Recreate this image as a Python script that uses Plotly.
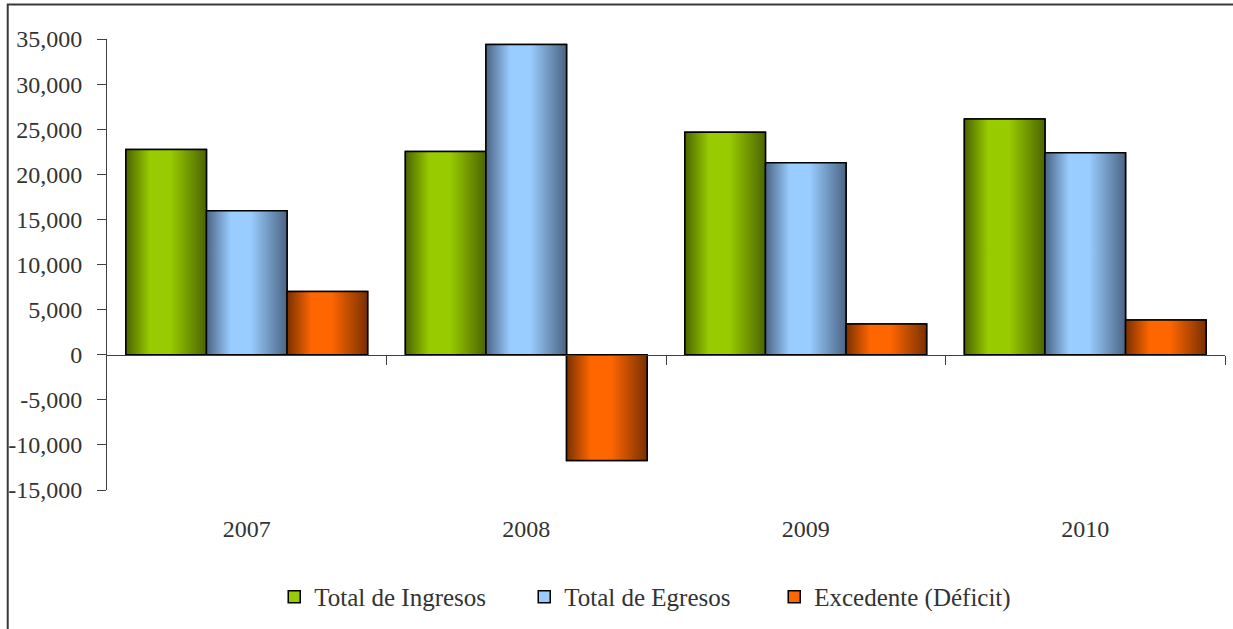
import plotly.graph_objects as go

# Yearly budget summary (values in thousands)
years = ["2007", "2008", "2009", "2010"]
ingresos = [22750, 22530, 24670, 26140]
egresos = [15950, 34390, 21270, 22380]
excedente = [7020, -11740, 3400, 3840]

y_tick_vals = [-15000, -10000, -5000, 0, 5000, 10000, 15000, 20000, 25000, 30000, 35000]
y_tick_text = ["-15,000", "-10,000", "-5,000", "0", "5,000", "10,000", "15,000",
               "20,000", "25,000", "30,000", "35,000"]

series_names = ["Total de Ingresos", "Total de Egresos", "Excedente (Déficit)"]
series_values = [ingresos, egresos, excedente]
light_colors = ["#99cc00", "#99ccff", "#ff6600"]
dark_colors = ["#4b6500", "#4b6484", "#7a3000"]

FONT = "Liberation Serif"
TEXT = "#333333"
AXIS = "#404040"
BARGAP = 0.135

xpos = list(range(len(years)))
n = len(series_values)
bw = (1 - BARGAP) / n

fig = go.Figure()

# base bars (also provide the legend swatches)
for k in range(n):
    fig.add_trace(go.Bar(
        x=xpos, y=series_values[k], name=series_names[k],
        offsetgroup=str(k),
        marker=dict(color=light_colors[k], line=dict(color="black", width=1.5)),
    ))

# cylinder-like horizontal shading laid over each bar
for k in range(n):
    offset = (k - (n - 1) / 2) * bw
    scale = [[0, dark_colors[k]], [0.3, light_colors[k]], [0.55, light_colors[k]],
             [1, dark_colors[k]]]
    for xi, v in zip(xpos, series_values[k]):
        x0 = xi + offset - bw / 2
        x1 = x0 + bw
        fig.add_trace(go.Scatter(
            x=[x0, x0, x1, x1, x0], y=[0, v, v, 0, 0],
            mode="lines", fill="toself",
            fillgradient=dict(type="horizontal", colorscale=scale),
            line=dict(color="black", width=1.5),
            showlegend=False, hoverinfo="skip",
        ))

# carrier for the category label axis
fig.add_trace(go.Scatter(x=[0], y=[None], xaxis="x2", showlegend=False, hoverinfo="skip"))

fig.update_layout(
    width=1233, height=629,
    margin=dict(l=105, r=8, t=39, b=139),
    paper_bgcolor="white", plot_bgcolor="white",
    barmode="group", bargap=BARGAP, bargroupgap=0,
    font=dict(family=FONT, color=TEXT),
    xaxis=dict(
        range=[-0.5, 3.5], anchor="free", position=0.3,
        showline=True, linecolor=AXIS, linewidth=1,
        tickvals=[0.5, 1.5, 2.5, 3.5], showticklabels=False,
        ticks="outside", ticklen=9, tickcolor=AXIS,
        showgrid=False, zeroline=False,
    ),
    xaxis2=dict(
        overlaying="x", range=[-0.5, 3.5], anchor="y", side="bottom",
        tickvals=xpos, ticktext=years, ticks="", showline=False,
        showgrid=False, zeroline=False, ticklabelstandoff=22,
        tickfont=dict(family=FONT, size=24, color=TEXT),
    ),
    yaxis=dict(
        range=[-15000, 35000], tickvals=y_tick_vals, ticktext=y_tick_text,
        ticks="outside", ticklen=9, tickcolor=AXIS,
        showline=True, linecolor=AXIS, linewidth=1,
        showgrid=False, zeroline=False, ticklabelstandoff=10,
        tickfont=dict(family=FONT, size=24, color=TEXT),
    ),
    legend=dict(
        orientation="h", x=0.485, xanchor="center", y=-0.237, yanchor="middle",
        font=dict(family=FONT, size=25, color=TEXT), bgcolor="rgba(0,0,0,0)",
        entrywidth=205, entrywidthmode="pixels",
    ),
    showlegend=True,
    shapes=[dict(
        type="rect", xref="paper", yref="paper",
        x0=-0.0888, y0=-0.4, x1=1.05, y1=1.0765,
        line=dict(color="#3a3a3a", width=2), fillcolor="rgba(0,0,0,0)", layer="below",
    )],
)

fig.write_html("out.html")
